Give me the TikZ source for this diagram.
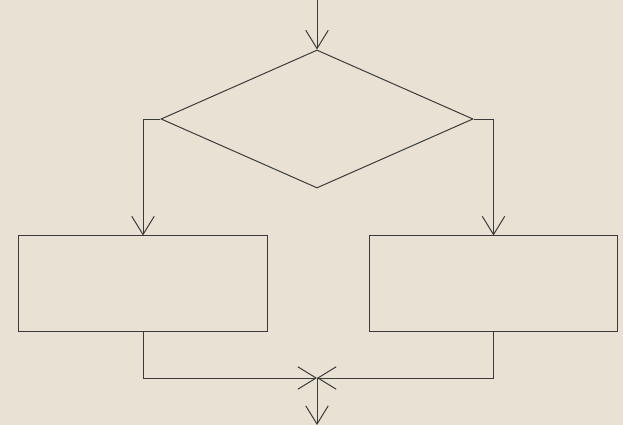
\documentclass[tikz,border=0pt]{standalone}
\usetikzlibrary{shapes.geometric,arrows.meta}
\definecolor{paper}{HTML}{E8E1D4}
\definecolor{ink}{HTML}{3A3A3A}
\tikzset{
  flow/.style={draw=ink, line width=0.7pt},
  barb/.style={-{Straight Barb[length=13pt,width=16pt]}},
  decide/.style={flow, diamond, inner sep=0pt, minimum width=7.8cm, minimum height=3.45cm},
  block/.style={flow, rectangle, inner sep=0pt, minimum width=6.2cm, minimum height=2.375cm},
}
\begin{document}
\begin{tikzpicture}[x=0.025cm,y=-0.025cm]
	% canvas
	\fill[paper] (0,0) rectangle (623,425);
	\useasboundingbox (0,0) rectangle (623,425);
	
	% decision and the two branches
	\node[decide] (cond) at (317,119) {};
	\node[block] (left) at (143,283.5) {};
	\node[block] (right) at (493.5,283.5) {};
	
	\coordinate (in) at (317,0);
	\coordinate (join) at (317,378);
	\coordinate (out) at (317,425);
	
	%connectors
	\draw[flow,barb] (in) -- (cond.north);
	\draw[flow,barb] (cond.west) -| (left.north);
	\draw[flow,barb] (cond.east) -| (right.north);
	\draw[flow,barb] (left.south) |- (join);
	\draw[flow,barb] (right.south) |- (join);
	\draw[flow,barb] (join) -- (out);
\end{tikzpicture}
\end{document}
